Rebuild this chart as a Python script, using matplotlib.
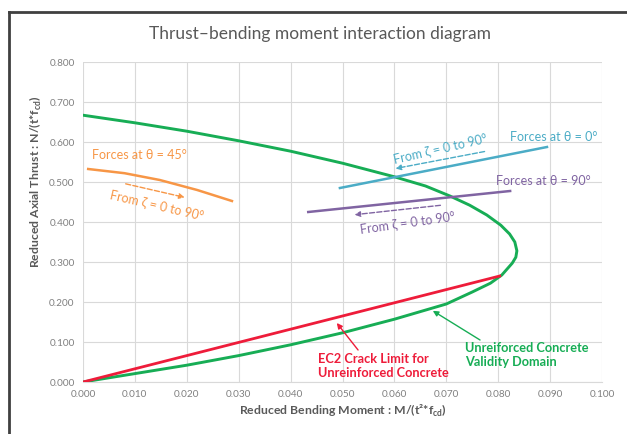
import matplotlib
matplotlib.use("Agg")
import matplotlib.pyplot as plt
from matplotlib.lines import Line2D

plt.rcParams['font.family'] = ['Lato', 'DejaVu Sans']
plt.rcParams['mathtext.fontset'] = 'custom'
plt.rcParams['mathtext.rm'] = 'Lato'
plt.rcParams['mathtext.bf'] = 'Lato:bold'

# Validity domain (green): upper branch -> nose -> lower branch
green_M = [0.000, 0.010, 0.020, 0.030, 0.040, 0.050, 0.060, 0.0660, 0.0707, 0.0745, 0.0778,
           0.0805, 0.0822, 0.0832, 0.0836, 0.0834, 0.0827, 0.0807, 0.0785, 0.0750, 0.0700,
           0.060, 0.050, 0.040, 0.030, 0.020, 0.010, 0.000]
green_N = [0.667, 0.648, 0.627, 0.603, 0.577, 0.547, 0.513, 0.490, 0.465, 0.442, 0.4175,
           0.392, 0.370, 0.350, 0.328, 0.312, 0.297, 0.2675, 0.247, 0.225, 0.195,
           0.157, 0.123, 0.093, 0.066, 0.042, 0.021, 0.000]

# EC2 crack limit (red)
red_M = [0.000, 0.0803]
red_N = [0.000, 0.265]

# Forces at theta = 0 deg (cyan)
c0_M = [0.0495, 0.0894]
c0_N = [0.485, 0.5875]

# Forces at theta = 90 deg (purple)
c90_M = [0.0434, 0.0823]
c90_N = [0.425, 0.4775]

# Forces at theta = 45 deg (orange)
c45_M = [0.001, 0.008, 0.0148, 0.022, 0.0287]
c45_N = [0.5325, 0.522, 0.505, 0.480, 0.4525]

x_ticks = [0.0, 0.01, 0.02, 0.03, 0.04, 0.05, 0.06, 0.07, 0.08, 0.09, 0.10]
y_ticks = [0.0, 0.1, 0.2, 0.3, 0.4, 0.5, 0.6, 0.7, 0.8]

GREEN = '#17AD55'
RED = '#EE1C3A'
CYAN = '#4BACC6'
PURPLE = '#8064A2'
ORANGE = '#F79646'
GRAY = '#595959'
TICK = '#808080'

fig = plt.figure(figsize=(6.27, 4.34), dpi=100)
ax = fig.add_axes([83/627, 1-382/434, (602-83)/627, (382-62)/434])

ax.plot(green_M, green_N, color=GREEN, lw=2.1, solid_capstyle='round', solid_joinstyle='round', zorder=3)
ax.plot(red_M, red_N, color=RED, lw=2.0, zorder=4)
ax.plot(c0_M, c0_N, color=CYAN, lw=1.8, zorder=3)
ax.plot(c90_M, c90_N, color=PURPLE, lw=1.8, zorder=3)
ax.plot(c45_M, c45_N, color=ORANGE, lw=1.8, solid_joinstyle='round', zorder=3)

ax.set_xlim(0, 0.1)
ax.set_ylim(0, 0.8)
ax.set_xticks(x_ticks)
ax.set_yticks(y_ticks)
ax.set_xticklabels([f"{v:.3f}" for v in x_ticks])
ax.set_yticklabels([f"{v:.3f}" for v in y_ticks])
ax.tick_params(length=0, labelsize=7.2, labelcolor=TICK, pad=6)
ax.grid(True, color='#D9D9D9', lw=0.8)
ax.set_axisbelow(True)
for s in ['top', 'right', 'left']:
    ax.spines[s].set_visible(False)
ax.spines['bottom'].set_color('#D9D9D9')

fig.text(343/627, 1-411/434, "Reduced Bending Moment : M/(t²*f$_{\\mathbf{cd}}$)", fontsize=8.8,
         fontweight='bold', color=GRAY, ha='center', va='center')
fig.text(36/627, 1-182/434, "Reduced Axial Thrust : N/(t*f$_{\\mathbf{cd}}$)", fontsize=8.8,
         fontweight='bold', color=GRAY, ha='center', va='center', rotation=90)
fig.text(320/627, 1-34/434, "Thrust\u2013bending moment interaction diagram", ha='center', va='center',
         fontsize=12.5, color=GRAY)

# Annotations
fs = 9
ax.text(0.0018, 0.567, "Forces at \u03b8 = 45°", color=ORANGE, fontsize=fs, va='center', ha='left')
ax.annotate("", xy=(0.0201, 0.460), xytext=(0.0077, 0.497),
            arrowprops=dict(arrowstyle='-|>', ls='--', color=ORANGE, lw=1.0, mutation_scale=8))
ax.text(0.0143, 0.443, "From \u03b6 = 0 to 90°", color=ORANGE, fontsize=fs, rotation=-13,
        ha='center', va='center')

ax.text(0.0823, 0.6125, "Forces at \u03b8 = 0°", color=CYAN, fontsize=fs, va='center', ha='left')
ax.annotate("", xy=(0.0597, 0.5325), xytext=(0.0779, 0.5775),
            arrowprops=dict(arrowstyle='-|>', ls='--', color=CYAN, lw=1.0, mutation_scale=8))
ax.text(0.0688, 0.585, "From \u03b6 = 0 to 90°", color=CYAN, fontsize=fs, rotation=13,
        ha='center', va='center')

ax.text(0.0795, 0.5025, "Forces at \u03b8 = 90°", color=PURPLE, fontsize=fs, va='center', ha='left')
ax.annotate("", xy=(0.0518, 0.4175), xytext=(0.0694, 0.4425),
            arrowprops=dict(arrowstyle='-|>', ls='--', color=PURPLE, lw=1.0, mutation_scale=8))
ax.text(0.0626, 0.400, "From \u03b6 = 0 to 90°", color=PURPLE, fontsize=fs, rotation=8,
        ha='center', va='center')

ax.annotate("", xy=(0.0489, 0.1475), xytext=(0.0530, 0.080),
            arrowprops=dict(arrowstyle='-|>', color=RED, lw=1.0, mutation_scale=8, shrinkA=0, shrinkB=0))
ax.text(0.0453, 0.040, "EC2 Crack Limit for\nUnreinforced Concrete", color=RED, fontsize=9.2,
        fontweight='bold', ha='left', va='center', linespacing=1.2)

ax.annotate("", xy=(0.0674, 0.178), xytext=(0.0765, 0.105),
            arrowprops=dict(arrowstyle='-|>', color=GREEN, lw=1.0, mutation_scale=8, shrinkA=0, shrinkB=0))
ax.text(0.0736, 0.0675, "Unreiforced Concrete\nValidity Domain", color=GREEN, fontsize=9.2,
        fontweight='bold', ha='left', va='center', linespacing=1.2)

# Outer frame lines (top and left)
fig.add_artist(Line2D([9/627, 1.0], [1-12/434, 1-12/434], transform=fig.transFigure, color='#404040', lw=2))
fig.add_artist(Line2D([9/627, 9/627], [0.0, 1-12/434], transform=fig.transFigure, color='#404040', lw=2))

fig.savefig("out.png", dpi=100)
